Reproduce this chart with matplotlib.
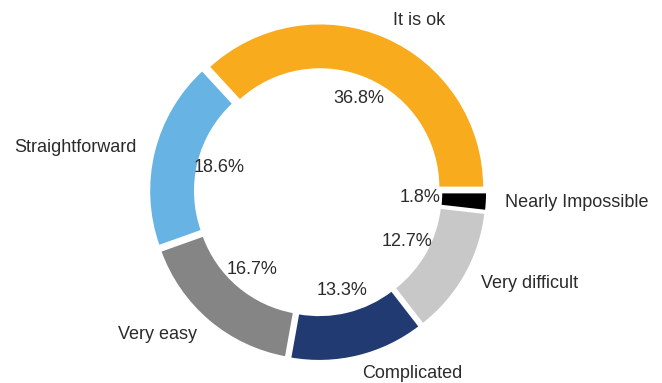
import matplotlib
matplotlib.use("Agg")
import matplotlib.pyplot as plt

categories = ["It is ok", "Straightforward", "Very easy", "Complicated",
              "Very difficult", "Nearly Impossible"]
shares = [36.8, 18.6, 16.7, 13.3, 12.7, 1.8]
colors = ["#F9AB1E", "#67B3E3", "#858585", "#213A72", "#C8C8C8", "#000000"]

plt.rcParams["font.family"] = ["Liberation Sans", "DejaVu Sans"]

fig = plt.figure(figsize=(6.62, 3.83), dpi=100)
ax = fig.add_axes([0, 0, 1, 1])

wedges, texts, autotexts = ax.pie(
    shares,
    labels=categories,
    colors=colors,
    startangle=0,
    counterclock=True,
    radius=1.02,
    explode=[0.03] * len(shares),
    autopct="%.1f%%",
    pctdistance=0.59,
    labeldistance=1.11,
    wedgeprops=dict(width=0.285, edgecolor="white", linewidth=1.5),
    textprops=dict(fontsize=13, color="#2b2b2b"),
)

ax.set_aspect("equal")
ax.set_xlim(-1.975, 2.136)
ax.set_ylim(-1.186, 1.193)
ax.axis("off")

fig.savefig("out.png", dpi=100)
